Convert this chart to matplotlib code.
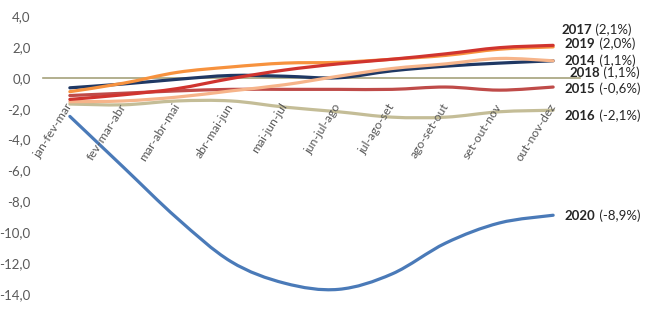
import matplotlib
matplotlib.use("Agg")
import matplotlib.pyplot as plt
from matplotlib.path import Path
from matplotlib.patches import PathPatch
from matplotlib.ticker import FuncFormatter

plt.rcParams['font.family'] = ['Lato', 'DejaVu Sans']

# categories (rolling quarters)
periods = ["jan-fev-mar", "fev-mar-abr", "mar-abr-mai", "abr-mai-jun", "mai-jun-jul",
           "jun-jul-ago", "jul-ago-set", "ago-set-out", "set-out-nov", "out-nov-dez"]

# series values
y2014 = [-1.55, -1.5, -1.25, -0.85, -0.45, 0.1, 0.6, 0.9, 1.25, 1.1]
y2015 = [-1.15, -1.0, -0.85, -0.75, -0.75, -0.75, -0.75, -0.6, -0.8, -0.6]
y2016 = [-1.7, -1.75, -1.5, -1.5, -1.9, -2.2, -2.55, -2.55, -2.2, -2.1]
y2017 = [-1.4, -1.1, -0.7, -0.05, 0.5, 0.9, 1.2, 1.55, 1.95, 2.1]
y2018 = [-0.65, -0.4, -0.1, 0.15, 0.1, 0.0, 0.45, 0.75, 0.95, 1.1]
y2019 = [-0.9, -0.35, 0.35, 0.7, 0.95, 1.0, 1.2, 1.45, 1.85, 2.0]
y2020 = [-2.5, -5.8, -9.1, -11.9, -13.3, -13.7, -12.7, -10.7, -9.4, -8.9]

years = ["2016", "2015", "2018", "2014", "2019", "2017", "2020"]
series = [y2016, y2015, y2018, y2014, y2019, y2017, y2020]
totals = ["-2,1%", "-0,6%", "1,1%", "1,1%", "2,0%", "2,1%", "-8,9%"]
colors = ["#c4bd97", "#bf4b49", "#1f3864", "#f6b48a", "#f7923e", "#d0342f", "#4a7ab8"]
label_y = [-2.45, -0.7, 0.33, 1.1, 2.2, 3.1, -8.95]
label_dx = [0.22, 0.22, 0.3, 0.22, 0.22, 0.15, 0.22]


def smooth_path(xs, ys):
    # Excel-style smoothed line: bezier segments with catmull-rom control points
    n = len(xs)
    verts = [(xs[0], ys[0])]
    codes = [Path.MOVETO]
    for i in range(n - 1):
        x0, y0 = xs[max(i - 1, 0)], ys[max(i - 1, 0)]
        x1, y1 = xs[i], ys[i]
        x2, y2 = xs[i + 1], ys[i + 1]
        x3, y3 = xs[min(i + 2, n - 1)], ys[min(i + 2, n - 1)]
        c1 = (x1 + (x2 - x0) / 6, y1 + (y2 - y0) / 6)
        c2 = (x2 - (x3 - x1) / 6, y2 - (y3 - y1) / 6)
        verts += [c1, c2, (x2, y2)]
        codes += [Path.CURVE4] * 3
    return Path(verts, codes)


fig = plt.figure(figsize=(6.5, 3.14), dpi=100)
ax = fig.add_axes([43 / 650, 20 / 314, 537 / 650, 278 / 314])

# spine position first, it resets the ticks
for s in ['top', 'right', 'left']:
    ax.spines[s].set_visible(False)
ax.spines['bottom'].set_position(('data', 0))
ax.spines['bottom'].set_color('#a5a27c')
ax.spines['bottom'].set_linewidth(1.2)
ax.spines['bottom'].set_zorder(0.5)

xs = list(range(len(periods)))
for yr, vals, col, tot, ly, dx in zip(years, series, colors, totals, label_y, label_dx):
    patch = PathPatch(smooth_path(xs, vals), facecolor='none', edgecolor=col,
                      linewidth=2.3, capstyle='round', joinstyle='round')
    ax.add_patch(patch)
    t = ax.text(len(periods) - 1 + dx, ly, yr, fontsize=9.5, fontweight='bold',
                color='#262626', va='center', ha='left')
    ax.annotate(" (" + tot + ")", xy=(1, 0.5), xycoords=t,
                fontsize=9.5, color='#262626', va='center', ha='left')

ax.set_xlim(-0.5, len(periods) - 0.5)
ax.set_ylim(-14, 4)
ax.set_yticks([4, 2, 0, -2, -4, -6, -8, -10, -12, -14])
ax.yaxis.set_major_formatter(FuncFormatter(lambda v, p: f"{v:.1f}".replace(".", ",")))
ax.set_xticks(xs)
ax.set_xticklabels(periods, rotation=58, ha='right', va='center', rotation_mode='anchor')
ax.tick_params(axis='x', length=0, pad=19, labelsize=8.8, labelcolor='#595959')
ax.tick_params(axis='y', length=0, pad=9, labelsize=9.5, labelcolor='#595959')

fig.savefig("out.png", dpi=100)
